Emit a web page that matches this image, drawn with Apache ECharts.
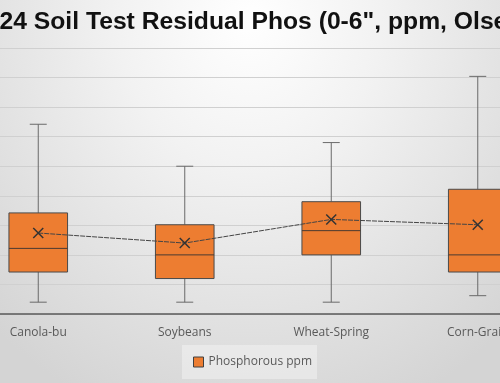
<!DOCTYPE html>
<html><head><meta charset="utf-8">
<script src="https://cdn.jsdelivr.net/npm/echarts@6/dist/echarts.min.js"></script>
<style>
html,body{margin:0;padding:0;overflow:hidden;width:500px;height:383px;}
#bg{position:absolute;left:0;top:0;width:500px;height:383px;background:radial-gradient(ellipse 75% 110% at 50% 5%, #ffffff 0%, #f2f2f2 35%, #d4d4d4 100%);}
#c{position:absolute;left:-35px;top:0;width:586px;height:383px;}
</style></head><body><div id="bg"></div><div id="c"></div>
<script>
const categories = ['Canola-bu', 'Soybeans', 'Wheat-Spring', 'Corn-Grain'];
// [min, Q1, median, Q3, max]
const boxValues = [
  [2.0, 7.1, 11.1, 17.1, 32.1],
  [2.0, 6.0, 10.0, 15.1, 25.0],
  [2.0, 10.0, 14.1, 19.0, 29.0],
  [3.1, 7.1, 10.0, 21.1, 40.2]
];
const meanValues = [13.7, 12.0, 16.0, 15.1];
const titleText = '2024 Soil Test Residual Phos (0-6", ppm, Olsen P)';
const seriesName = 'Phosphorous ppm';

const chart = echarts.init(document.getElementById('c'), null, {renderer:'canvas'});
const orange = '#ED7D31';
chart.setOption({
  backgroundColor: 'transparent',
  animation: false,
  title: {text: titleText, left: 7, top: 10, padding: 0,
    textStyle: {fontFamily: 'Liberation Sans, Arial', fontWeight: 'bold', fontSize: 24.7, color: '#111'}},
  legend: {
    top: 345, left: 217,
    data: [{name: seriesName, icon: 'rect'}],
    itemWidth: 10, itemHeight: 10, itemGap: 6,
    padding: [11, 5, 11, 11],
    backgroundColor: 'rgba(255,255,255,0.35)',
    textStyle: {fontFamily: 'Open Sans', fontSize: 12, color: '#595959'},
    itemStyle: {color: orange, borderColor: '#404040', borderWidth: 1}
  },
  grid: {left: 0, right: 0, top: 48, bottom: 69, containLabel: false},
  xAxis: {type: 'category', data: categories,
    axisLine: {lineStyle: {color: '#595959', width: 1.5}},
    axisTick: {show: false},
    axisLabel: {fontFamily: 'Open Sans', fontSize: 12, color: '#595959', margin: 13}},
  yAxis: {type: 'value', min: 0, max: 45, interval: 5,
    axisLabel: {show: false}, axisLine: {show: false}, axisTick: {show: false},
    splitLine: {lineStyle: {color: '#d0d0d0', width: 1}}},
  series: [
    {
      name: seriesName, type: 'custom',
      itemStyle: {color: orange},
      data: boxValues.map((v, i) => [i].concat(v)),
      encode: {x: 0, y: [1, 2, 3, 4, 5]},
      renderItem: function (params, api) {
        const i = api.value(0);
        const pMin = api.coord([i, api.value(1)]);
        const pQ1 = api.coord([i, api.value(2)]);
        const pMed = api.coord([i, api.value(3)]);
        const pQ3 = api.coord([i, api.value(4)]);
        const pMax = api.coord([i, api.value(5)]);
        const bw = api.size([1, 0])[0] * 0.4;
        const cw = bw * 0.29;
        const x = pMin[0];
        const wl = {stroke: '#6a6a6a', lineWidth: 1};
        return {type: 'group', children: [
          {type: 'line', shape: {x1: x, y1: pMax[1], x2: x, y2: pQ3[1]}, style: wl},
          {type: 'line', shape: {x1: x, y1: pQ1[1], x2: x, y2: pMin[1]}, style: wl},
          {type: 'line', shape: {x1: x - cw/2, y1: pMax[1], x2: x + cw/2, y2: pMax[1]}, style: wl},
          {type: 'line', shape: {x1: x - cw/2, y1: pMin[1], x2: x + cw/2, y2: pMin[1]}, style: wl},
          {type: 'rect', shape: {x: x - bw/2, y: pQ3[1], width: bw, height: pQ1[1] - pQ3[1]},
            style: {fill: orange, stroke: '#4a4a4a', lineWidth: 1}},
          {type: 'line', shape: {x1: x - bw/2, y1: pMed[1], x2: x + bw/2, y2: pMed[1]},
            style: {stroke: '#4a3a30', lineWidth: 1}}
        ]};
      },
      z: 2
    },
    {
      name: 'Mean', type: 'line', data: meanValues,
      symbol: 'path://M0,0L10,10M10,0L0,10', symbolSize: 10,
      itemStyle: {color: 'transparent', borderColor: '#333', borderWidth: 1.5},
      lineStyle: {color: '#444', width: 1, type: [5, 1]},
      z: 5
    }
  ]
});
</script></body></html>
